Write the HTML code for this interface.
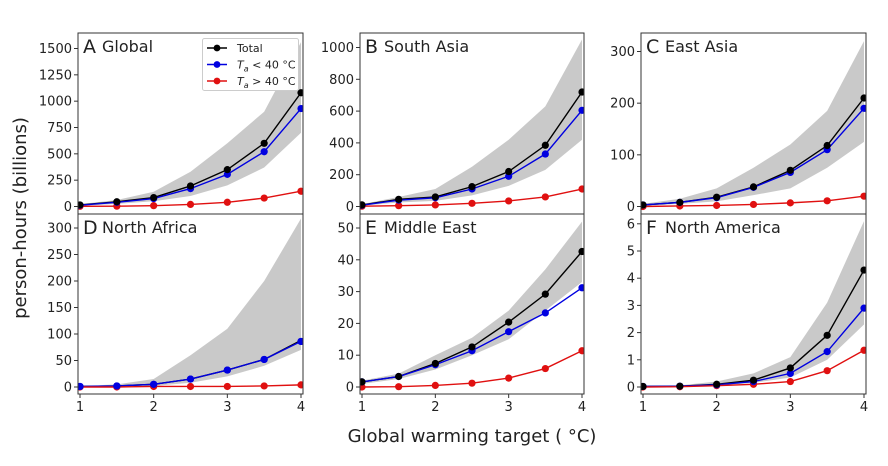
<!DOCTYPE html>
<html><head><meta charset="utf-8"><style>
body{margin:0;background:#fff;}
svg text{font-family:"DejaVu Sans","Liberation Sans",sans-serif;fill:#222;}
</style></head><body>
<svg id="s" width="888" height="461" xmlns="http://www.w3.org/2000/svg"></svg>
<script>
const S=document.getElementById('s');let h='';
const xs=[1,1.5,2,2.5,3,3.5,4];
const P=[
{L:78,R:303,T:33,B:214,y0:206.5,ppu:158/1500,ticks:[0,250,500,750,1000,1250,1500],t:'A',n:'Global',
 tot:[15,45,85,195,350,600,1080],blu:[12,40,75,170,305,520,930],red:[2,3,8,20,40,80,145],
 up:[22,62,140,330,600,900,1560],lo:[5,25,50,100,200,370,700]},
{L:360,R:584,T:33,B:214,y0:206.5,ppu:159/1000,ticks:[0,200,400,600,800,1000],t:'B',n:'South Asia',
 tot:[10,45,60,125,220,385,720],blu:[8,40,55,110,190,330,605],red:[2,5,10,20,35,60,110],
 up:[15,60,110,250,420,630,1050],lo:[5,25,35,70,130,230,420]},
{L:641,R:866,T:33,B:214,y0:206.5,ppu:155/300,ticks:[0,100,200,300],t:'C',n:'East Asia',
 tot:[3,8,18,38,70,118,210],blu:[3,8,17,37,66,110,190],red:[0,1,2,4,7,11,20],
 up:[5,15,35,75,120,185,320],lo:[1,5,10,22,35,75,125]},
{L:78,R:303,T:214,B:394,y0:387,ppu:159/300,ticks:[0,50,100,150,200,250,300],t:'D',n:'North Africa',
 tot:[1,2,5,15,32,52,88],blu:[1,2,5,15,32,52,86],red:[0,0,1,1,1,2,4],
 up:[2,5,15,60,110,200,318],lo:[0,1,2,8,20,40,70]},
{L:360,R:584,T:214,B:394,y0:387,ppu:159/50,ticks:[0,10,20,30,40,50],t:'E',n:'Middle East',
 tot:[1.6,3.3,7.4,12.6,20.4,29.2,42.6],blu:[1.6,3.3,7,11.4,17.4,23.3,31.2],red:[0,0.1,0.5,1.2,2.8,5.8,11.4],
 up:[2,4.2,10,15.5,24,37,52],lo:[1,2.5,5.5,10,15,24,33]},
{L:641,R:866,T:214,B:394,y0:387,ppu:27.2,ticks:[0,1,2,3,4,5,6],t:'F',n:'North America',
 tot:[0.02,0.03,0.1,0.25,0.7,1.9,4.3],blu:[0.02,0.03,0.08,0.2,0.5,1.3,2.9],red:[0,0.01,0.05,0.1,0.2,0.6,1.35],
 up:[0.05,0.06,0.2,0.5,1.1,3.1,6.1],lo:[0,0.01,0.05,0.15,0.35,1.0,2.3]}
];
P.forEach((p,i)=>{
 const X=v=>p.L+2+(v-1)/3*(p.R-p.L-4), Y=v=>p.y0-v*p.ppu;
 h+=`<clipPath id="c${i}"><rect x="${p.L}" y="${p.T}" width="${p.R-p.L}" height="${p.B-p.T}"/></clipPath><g clip-path="url(#c${i})">`;
 let pts=xs.map((x,j)=>X(x)+','+Y(p.up[j])).join(' ')+' '+xs.slice().reverse().map((x,j)=>X(x)+','+Y(p.lo[6-j])).join(' ');
 h+=`<polygon points="${pts}" fill="#c9c9c9"/>`;
 [['tot','#000'],['blu','#0000e0'],['red','#e01010']].forEach(([k,c])=>{
  h+=`<polyline points="${xs.map((x,j)=>X(x)+','+Y(p[k][j])).join(' ')}" fill="none" stroke="${c}" stroke-width="1.4"/>`;
 });
 [['red','#e01010'],['blu','#0000e0'],['tot','#000']].forEach(([k,c])=>{
  if(k=='tot'&&(i==3))return;
  xs.forEach((x,j)=>h+=`<circle cx="${X(x)}" cy="${Y(p[k][j])}" r="3.6" fill="${c}"/>`);
 });
 if(i==3)xs.forEach((x,j)=>h+=`<circle cx="${X(x)}" cy="${Y(p.blu[j])}" r="3.6" fill="#0000e0"/>`);
 h+='</g>';
 h+=`<rect x="${p.L}" y="${p.T}" width="${p.R-p.L}" height="${p.B-p.T}" fill="none" stroke="#333" stroke-width="1"/>`;
 p.ticks.forEach(t=>{const y=Y(t);h+=`<line x1="${p.L-4}" x2="${p.L}" y1="${y}" y2="${y}" stroke="#333"/><text x="${p.L-6}" y="${y+4.5}" font-size="13" text-anchor="end">${t}</text>`;});
 if(i>=3)[1,2,3,4].forEach(t=>{const x=X(t);h+=`<line x1="${x}" x2="${x}" y1="${p.B}" y2="${p.B+4}" stroke="#333"/><text x="${x}" y="${p.B+17}" font-size="13" text-anchor="middle">${t}</text>`;});
 h+=`<text x="${p.L+5}" y="${p.T+20}" font-size="19">${p.t}</text><text x="${p.L+24}" y="${p.T+19}" font-size="16">${p.n}</text>`;
});
h+=`<rect x="202.5" y="38.5" width="96" height="52" fill="#fff" stroke="#ccc" rx="2"/>`;
[['#000','Total'],['#0000e0','<tspan font-style="italic">T</tspan><tspan font-size="8" font-style="italic" dy="3">a</tspan><tspan dy="-3"> &lt; 40 °C</tspan>'],['#e01010','<tspan font-style="italic">T</tspan><tspan font-size="8" font-style="italic" dy="3">a</tspan><tspan dy="-3"> &gt; 40 °C</tspan>']].forEach(([c,t],k)=>{
 const y=48+k*16.5;
 h+=`<line x1="207" x2="227" y1="${y}" y2="${y}" stroke="${c}" stroke-width="1.4"/><circle cx="217" cy="${y}" r="3.4" fill="${c}"/><text x="237" y="${y+4}" font-size="11">${t}</text>`;
});
h+=`<text x="472" y="442" font-size="18" text-anchor="middle">Global warming target ( °C)</text>`;
h+=`<text transform="translate(26,218) rotate(-90)" font-size="18" text-anchor="middle">person-hours (billions)</text>`;
S.innerHTML=h;
</script>
</body></html>
